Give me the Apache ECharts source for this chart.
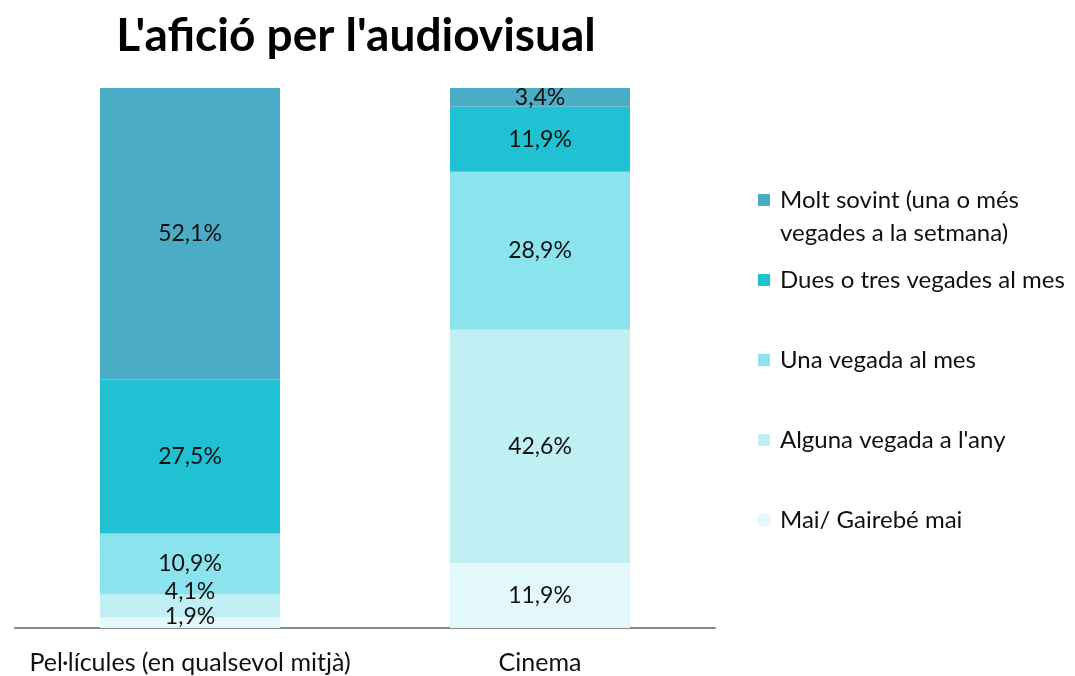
<!DOCTYPE html>
<html>
<head>
<meta charset="utf-8">
<script src="https://cdn.jsdelivr.net/npm/echarts@6/dist/echarts.min.js"></script>
<style>
  html, body { margin: 0; padding: 0; background: #fff; }
  #chart { width: 1075px; height: 676px; }
</style>
</head>
<body>
<div id="chart"></div>
<script>
// categories and series (percentages as printed on the chart)
const categories = ['Pel·lícules (en qualsevol mitjà)', 'Cinema'];
const seriesNames = [
  'Molt sovint (una o més vegades a la setmana)',
  'Dues o tres vegades al mes',
  'Una vegada al mes',
  "Alguna vegada a l'any",
  'Mai/ Gairebé mai'
];
const moltSovint = [52.1, 3.4];
const duesTres = [27.5, 11.9];
const unaVegada = [10.9, 28.9];
const algunaVegada = [4.1, 42.6];
const maiGairebe = [1.9, 11.9];

const colors = ['#4BACC6', '#1FC1D3', '#8BE4ED', '#C1F0F4', '#E3F8FA'];
const fontFam = 'Lato, "Open Sans", sans-serif';

const rows = [moltSovint, duesTres, unaVegada, algunaVegada, maiGairebe];
// 100% stacked: each column normalised by its own total
const totals = categories.map((_, i) => rows.reduce((s, r) => s + r[i], 0));

// small nudges for labels on thin segments
const labelShift = { '3-0': [0, -14], '4-0': [0, -6] };

const chart = echarts.init(document.getElementById('chart'));

// stack from the bottom: last series first
const series = rows.map((vals, si) => ({
  name: seriesNames[si],
  type: 'bar',
  stack: 'total',
  barWidth: 180,
  itemStyle: { color: colors[si] },
  label: {
    show: true,
    position: 'inside',
    color: '#111',
    fontSize: 23,
    fontFamily: fontFam,
    formatter: p => vals[p.dataIndex].toFixed(1).replace('.', ',') + '%'
  },
  data: vals.map((v, ci) => {
    const item = { value: v / totals[ci] * 100 };
    if (labelShift[si + '-' + ci]) item.label = { offset: labelShift[si + '-' + ci] };
    return item;
  })
})).reverse();

chart.setOption({
  animation: false,
  title: {
    text: "L'afició per l'audiovisual",
    left: 351,
    textAlign: 'center',
    top: 8,
    textStyle: { fontSize: 46, fontWeight: 'bold', fontFamily: fontFam, color: '#000' }
  },
  legend: {
    orient: 'vertical',
    left: 758,
    top: 185,
    padding: 0,
    itemWidth: 12,
    itemHeight: 12,
    itemGap: 50,
    icon: 'rect',
    textStyle: { fontSize: 24, fontFamily: fontFam, color: '#111', lineHeight: 30, padding: [0, 0, 0, 5] },
    formatter: name => name === seriesNames[0] ? 'Molt sovint (una o més' : name,
    data: seriesNames
  },
  graphic: [{
    type: 'text',
    left: 780,
    top: 218,
    style: { text: 'vegades a la setmana)', fontSize: 24, lineHeight: 30, fontFamily: fontFam, fill: '#111' }
  }],
  grid: { left: 15, width: 700, top: 88, height: 540 },
  xAxis: {
    type: 'category',
    data: categories,
    axisLine: { lineStyle: { color: '#888', width: 2 } },
    axisTick: { show: false },
    axisLabel: { interval: 0, fontSize: 25, fontFamily: fontFam, color: '#111', margin: 22 }
  },
  yAxis: {
    type: 'value',
    min: 0,
    max: 100,
    show: false
  },
  series
});
</script>
</body>
</html>
